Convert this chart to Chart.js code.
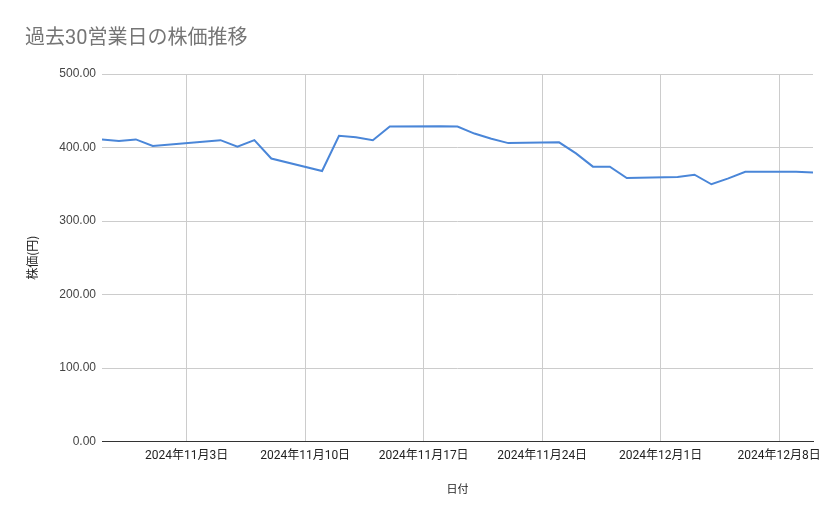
<!DOCTYPE html>
<html>
<head>
<meta charset="utf-8">
<script src="https://cdn.jsdelivr.net/npm/chart.js@4/dist/chart.umd.min.js"></script>
<style>
  html, body { margin: 0; padding: 0; background: #fff; }
  #wrap { width: 839px; height: 519px; }
</style>
</head>
<body>
<div id="wrap"><canvas id="stockChart" width="839" height="519"></canvas></div>
<script>
const tradeDates = [
    '2024-10-29', '2024-10-30', '2024-10-31', '2024-11-01',
    '2024-11-05', '2024-11-06', '2024-11-07', '2024-11-08',
    '2024-11-11', '2024-11-12', '2024-11-13', '2024-11-14', '2024-11-15',
    '2024-11-18', '2024-11-19', '2024-11-20', '2024-11-21', '2024-11-22',
    '2024-11-25', '2024-11-26', '2024-11-27', '2024-11-28', '2024-11-29',
    '2024-12-02', '2024-12-03', '2024-12-04', '2024-12-05', '2024-12-06',
    '2024-12-09', '2024-12-10'
];
const closePrices = [
    411, 409, 411, 402,
    410, 401, 410, 385,
    368, 416, 414, 410, 428.5,
    429, 428.5, 419, 412, 406,
    407, 392, 374, 374, 358.5,
    360, 363, 350, 358, 367,
    367, 366
];
const tickDates = ['2024-11-03', '2024-11-10', '2024-11-17', '2024-11-24', '2024-12-01', '2024-12-08'];
const yTicks = [0, 100, 200, 300, 400, 500];

// dates -> day numbers so a linear scale can stand in for a time scale
const toDay = s => {
    const [y, m, d] = s.split('-').map(Number);
    return Date.UTC(y, m - 1, d) / 86400000;
};
const dayLabel = n => {
    const dt = new Date(n * 86400000);
    return `${dt.getUTCFullYear()}年${dt.getUTCMonth() + 1}月${dt.getUTCDate()}日`;
};

const points = tradeDates.map((d, i) => ({x: toDay(d), y: closePrices[i]}));

new Chart(document.getElementById('stockChart'), {
    type: 'line',
    data: {
        datasets: [{
            label: '株価',
            data: points,
            borderColor: '#4a86d8',
            borderWidth: 2,
            pointRadius: 0,
            tension: 0,
            fill: false
        }]
    },
    options: {
        responsive: false,
        animation: false,
        layout: {padding: {left: 25, right: 26, top: 0, bottom: 22}},
        plugins: {
            legend: {display: false},
            tooltip: {enabled: false},
            title: {
                display: true,
                text: '過去30営業日の株価推移',
                align: 'start',
                color: '#757575',
                font: {family: "Roboto, 'Noto Sans CJK JP', sans-serif", size: 20, weight: 'normal', lineHeight: 1.2},
                padding: {top: 27, bottom: 23}
            }
        },
        scales: {
            x: {
                type: 'linear',
                min: toDay(tradeDates[0]),
                max: toDay(tradeDates[tradeDates.length - 1]),
                afterBuildTicks: scale => {
                    scale.ticks = tickDates.map(d => ({value: toDay(d)}));
                },
                ticks: {
                    callback: v => dayLabel(v),
                    color: '#222',
                    maxRotation: 0,
                    autoSkip: false,
                    padding: 8,
                    font: {family: "Roboto, 'Noto Sans CJK JP', sans-serif", size: 12, lineHeight: 1.1}
                },
                grid: {color: '#cccccc', drawTicks: false},
                border: {display: true, color: '#333333', width: 1},
                title: {
                    display: true,
                    text: '日付',
                    color: '#222',
                    font: {family: "Roboto, 'Noto Sans CJK JP', sans-serif", size: 11, lineHeight: 1.2},
                    padding: {top: 13, bottom: 0}
                }
            },
            y: {
                min: 0,
                max: 500,
                afterBuildTicks: scale => {
                    scale.ticks = yTicks.map(v => ({value: v}));
                },
                afterFit: scale => { scale.width = 77; },
                ticks: {
                    callback: v => v.toFixed(2),
                    color: '#444',
                    padding: 6,
                    font: {family: "'Liberation Sans', Arial, sans-serif", size: 12}
                },
                grid: {
                    color: ctx => ctx.tick && ctx.tick.value === 0 ? '#333333' : '#cccccc',
                    drawTicks: false
                },
                border: {display: false},
                title: {
                    display: true,
                    text: '株価(円)',
                    color: '#222',
                    font: {family: "'Noto Sans CJK JP', sans-serif", size: 12, lineHeight: 1.2},
                    padding: {top: 0, bottom: 0}
                }
            }
        }
    }
});
</script>
</body>
</html>
